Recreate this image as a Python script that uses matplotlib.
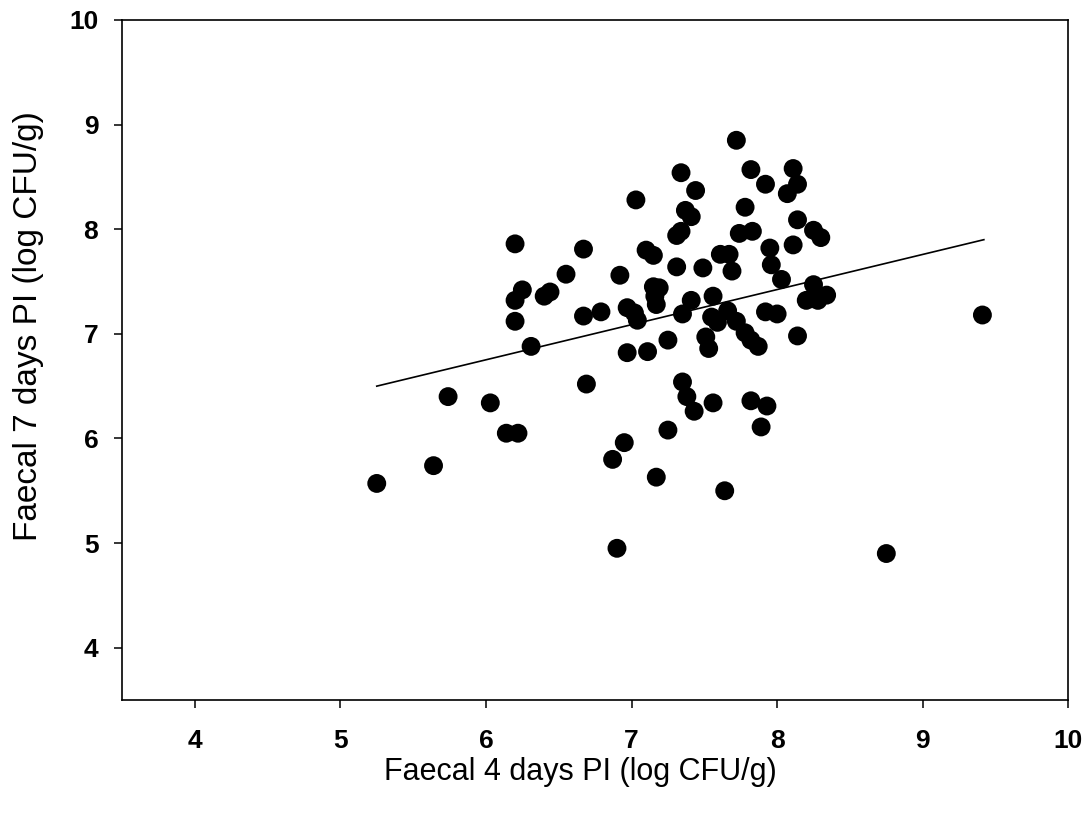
import matplotlib
matplotlib.use("Agg")
import matplotlib.pyplot as plt

plt.rcParams['font.family'] = ['Liberation Sans', 'DejaVu Sans']

# faecal counts, log CFU/g
day4 = [5.25, 5.64, 5.74, 6.03, 6.14, 6.22, 6.20, 6.25, 6.20, 6.20,
        6.31, 6.40, 6.44, 6.55, 6.67, 6.67, 6.79, 6.69, 6.92, 6.97,
        7.02, 7.04, 6.97, 7.11, 7.25, 6.95, 6.87, 6.90, 7.17, 7.25,
        7.03, 7.10, 7.15, 7.15, 7.19, 7.16, 7.17, 7.31, 7.34, 7.34,
        7.37, 7.41, 7.44, 7.31, 7.41, 7.35, 7.35, 7.38, 7.43, 7.49,
        7.56, 7.55, 7.59, 7.66, 7.72, 7.51, 7.53, 7.56, 7.64, 7.72,
        7.78, 7.74, 7.83, 7.61, 7.67, 7.69, 7.82, 8.11, 7.92, 8.14,
        8.07, 8.14, 8.25, 8.30, 7.95, 7.96, 8.11, 8.03, 8.25, 8.34,
        8.20, 8.28, 7.92, 8.00, 7.78, 7.82, 7.87, 8.14, 7.82, 7.93,
        7.89, 8.75, 9.41]
day7 = [5.57, 5.74, 6.40, 6.34, 6.05, 6.05, 7.86, 7.42, 7.32, 7.12,
        6.88, 7.36, 7.40, 7.57, 7.81, 7.17, 7.21, 6.52, 7.56, 7.25,
        7.20, 7.13, 6.82, 6.83, 6.94, 5.96, 5.80, 4.95, 5.63, 6.08,
        8.28, 7.80, 7.75, 7.45, 7.44, 7.36, 7.28, 7.94, 7.98, 8.54,
        8.18, 8.12, 8.37, 7.64, 7.32, 7.19, 6.54, 6.40, 6.26, 7.63,
        7.36, 7.16, 7.11, 7.22, 7.12, 6.97, 6.86, 6.34, 5.50, 8.85,
        8.21, 7.96, 7.98, 7.76, 7.76, 7.60, 8.57, 8.58, 8.43, 8.43,
        8.34, 8.09, 7.99, 7.92, 7.82, 7.66, 7.85, 7.52, 7.47, 7.37,
        7.32, 7.32, 7.21, 7.19, 7.01, 6.94, 6.88, 6.98, 6.36, 6.31,
        6.11, 4.90, 7.18]

# fitted line end points
fit_x = [5.25, 9.42]
fit_y = [6.50, 7.90]

fig = plt.figure(figsize=(10.89, 8.19), dpi=100)
ax = fig.add_axes([0.112, 0.1453, 0.869, 0.8303])

ax.plot(fit_x, fit_y, color='black', lw=1.2, zorder=2)
ax.scatter(day4, day7, s=185, color='black', edgecolors='none', zorder=3)

ax.set_xlim(3.5, 10)
ax.set_ylim(3.5, 10)
ax.set_xticks([4, 5, 6, 7, 8, 9, 10])
ax.set_yticks([4, 5, 6, 7, 8, 9, 10])
ax.tick_params(direction='out', length=6, width=1.1, labelsize=19)
ax.tick_params(axis='x', pad=15)
ax.tick_params(axis='y', pad=11)
for lbl in ax.get_xticklabels() + ax.get_yticklabels():
    lbl.set_fontweight('bold')

for s in ax.spines.values():
    s.set_linewidth(1.2)

ax.set_xlabel('Faecal 4 days PI (log CFU/g)', fontsize=22)
ax.set_ylabel('Faecal 7 days PI (log CFU/g)', fontsize=24)
ax.xaxis.set_label_coords(0.484, -0.084)
ax.yaxis.set_label_coords(-0.082, 0.55)

fig.savefig('out.png', dpi=100)
